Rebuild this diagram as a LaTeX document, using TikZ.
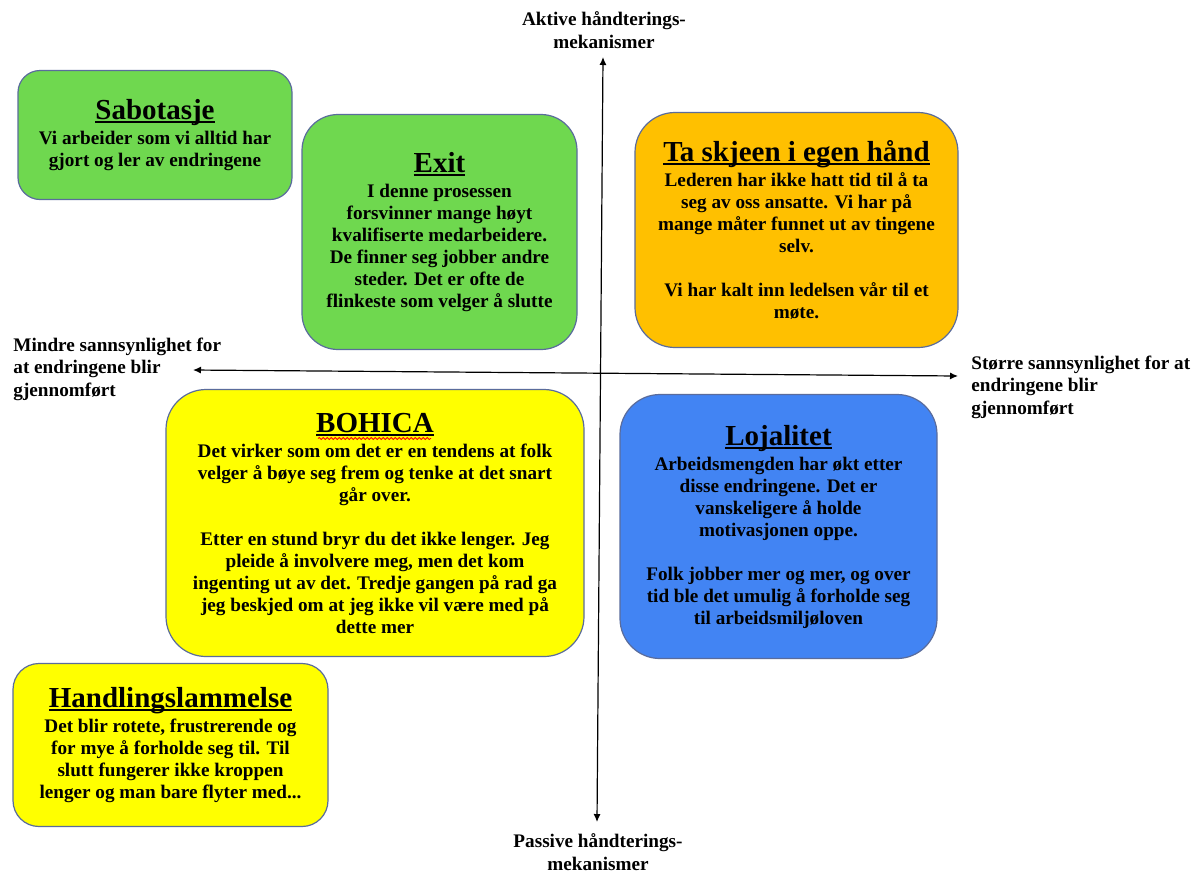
\documentclass[tikz,border=0pt]{standalone}
\usepackage{fontspec}
\setmainfont{Liberation Serif}
\usetikzlibrary{positioning,arrows.meta,decorations.pathmorphing}
\definecolor{qgreen}{HTML}{6FD84F}
\definecolor{qorange}{HTML}{FFC000}
\definecolor{qyellow}{HTML}{FFFF00}
\definecolor{qblue}{HTML}{4284F3}
\definecolor{qedge}{HTML}{5A6C9C}
% title with a word-processor style underline close to the baseline
\newcommand{\qtitle}[1]{{\fontsize{14.5}{15}\selectfont\setbox0=\hbox{#1}%
  \rlap{\rule[-1.8pt]{\wd0}{0.9pt}}\box0}\\[1.5pt]}
\tikzset{
  quad/.style   = {rectangle, rounded corners=18pt, draw=qedge, line width=0.6pt,
                   align=center, inner sep=0pt,
                   font=\bfseries\fontsize{9.6}{11}\selectfont},
  axis/.style   = {{Latex[length=4pt,width=3.5pt]}-{Latex[length=4pt,width=3.5pt]}, line width=0.6pt},
  axlbl/.style  = {font=\bfseries\fontsize{9.6}{11.2}\selectfont, inner sep=0pt},
}

\begin{document}
\begin{tikzpicture}[x=0.5pt,y=-0.5pt]
  \useasboundingbox[fill=white] (0,0) rectangle (1199,874);

  % axes
  \coordinate (top) at (603,57);
  \coordinate (bot) at (597,822);
  \coordinate (lft) at (193,370);
  \coordinate (rgt) at (958,376);
  \draw[axis] (bot) -- (top);
  \draw[axis] (lft) -- (rgt);

  \node[axlbl, align=center] (aktiv) at (604,30) {Aktive håndterings-\\mekanismer};
  \node[axlbl, align=center] (passiv) at (598,852) {Passive håndterings-\\mekanismer};
  \node[axlbl, align=left, anchor=west] (mindre) at (13,369)
    {Mindre sannsynlighet for\\at endringene blir\\gjennomført};
  \node[axlbl, align=left, anchor=west] (storre) at (971,387)
    {Større sannsynlighet for at\\endringene blir\\gjennomført};

  % quadrant boxes
  \node[quad, fill=qgreen, minimum width=137pt, minimum height=64.5pt, rounded corners=11pt]
    (sabotasje) at (155,135)
    {\qtitle{Sabotasje}Vi arbeider som vi alltid har\\gjort og ler av endringene};
  \node[quad, fill=qgreen, minimum width=137.5pt, minimum height=117.5pt]
    (exit) at (439.5,232)
    {\qtitle{Exit}I denne prosessen\\forsvinner mange høyt\\kvalifiserte medarbeidere.\\
     De finner seg jobber andre\\steder. Det er ofte de\\flinkeste som velger å slutte};
  \node[quad, fill=qorange, minimum width=161.5pt, minimum height=117.5pt, rounded corners=20pt]
    (skjeen) at (796.5,230)
    {\qtitle{Ta skjeen i egen hånd}Lederen har ikke hatt tid til å ta\\seg av oss ansatte. Vi har på\\
     mange måter funnet ut av tingene\\selv.\\[11pt]Vi har kalt inn ledelsen vår til et\\møte.};
  \node[quad, fill=qyellow, minimum width=209pt, minimum height=133.5pt, rounded corners=20pt]
    (bohica) at (375,523)
    {\qtitle{BOHICA}Det virker som om det er en tendens at folk\\velger å bøye seg frem og tenke at det snart\\
     går over.\\[11pt]Etter en stund bryr du det ikke lenger. Jeg\\pleide å involvere meg, men det kom\\
     ingenting ut av det. Tredje gangen på rad ga\\jeg beskjed om at jeg ikke vil være med på\\dette mer};
  \node[quad, fill=qblue, minimum width=158.5pt, minimum height=132pt, rounded corners=20pt]
    (lojalitet) at (778.5,526.5)
    {\qtitle{Lojalitet}Arbeidsmengden har økt etter\\disse endringene. Det er\\vanskeligere å holde\\
     motivasjonen oppe.\\[11pt]Folk jobber mer og mer, og over\\tid ble det umulig å forholde seg\\til arbeidsmiljøloven};
  \node[quad, fill=qyellow, minimum width=157.5pt, minimum height=81.5pt, rounded corners=13pt]
    (handling) at (170.5,745)
    {\qtitle{Handlingslammelse}Det blir rotete, frustrerende og\\for mye å forholde seg til. Til\\
     slutt fungerer ikke kroppen\\lenger og man bare flyter med...};

  % spell-check squiggle
  \draw[red, line width=0.4pt, decorate, decoration={snake, amplitude=0.5pt, segment length=2pt}]
    (318,438.5) -- (431,438.5);
\end{tikzpicture}
\end{document}
